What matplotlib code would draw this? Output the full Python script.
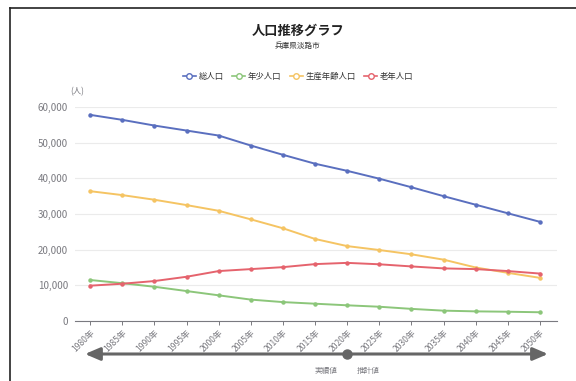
import matplotlib
matplotlib.use("Agg")
import matplotlib.pyplot as plt
from matplotlib.lines import Line2D

plt.rcParams['font.family'] = ['Noto Sans CJK JP', 'DejaVu Sans']

# データ
years = [1980, 1985, 1990, 1995, 2000, 2005, 2010, 2015, 2020, 2025,
         2030, 2035, 2040, 2045, 2050]
total = [57800, 56400, 54800, 53400, 52000, 49200, 46600, 44100, 42100,
         39900, 37500, 35000, 32600, 30200, 27800]
young = [11500, 10600, 9600, 8400, 7200, 6000, 5300, 4850, 4400,
         4000, 3400, 2900, 2700, 2600, 2450]
working = [36400, 35300, 34000, 32500, 30900, 28500, 26000, 23000, 21000,
           19900, 18700, 17200, 15000, 13500, 12100]
elderly = [9900, 10450, 11200, 12400, 14000, 14550, 15100, 15950, 16300,
           15900, 15300, 14750, 14550, 14000, 13300]
series_names = ["総人口", "年少人口", "生産年齢人口", "老年人口"]
yticks = [0, 10000, 20000, 30000, 40000, 50000, 60000]

COLORS = ["#5a6fbf", "#8cc67a", "#f5c463", "#e5636d"]
AXTX = "#7a7a80"
GRID = "#ebebeb"

fig = plt.figure(figsize=(5.76, 3.81), dpi=100, facecolor="white")
ax = fig.add_axes([75 / 576, 1 - 321 / 381, (557 - 75) / 576, (321 - 107) / 381])

xs = list(range(len(years)))
for vals, col in zip([total, young, working, elderly], COLORS):
    ax.plot(xs, vals, color=col, linewidth=1.4, marker="o", markersize=2.2,
            zorder=3, clip_on=False)

ax.set_xlim(-0.47, len(years) - 0.47)
ax.set_ylim(0, 60000)
ax.set_yticks(yticks)
ax.set_yticklabels([f"{v:,}" for v in yticks])
ax.set_xticks(xs)
ax.set_xticklabels([f"{y}年" for y in years], rotation=45, ha="right",
                   rotation_mode="anchor")
for s in ["top", "right", "left"]:
    ax.spines[s].set_visible(False)
ax.spines["bottom"].set_color(AXTX)
ax.spines["bottom"].set_linewidth(0.8)
ax.grid(axis="y", color=GRID, linewidth=0.8)
ax.set_axisbelow(True)
ax.tick_params(axis="y", length=0, labelsize=7, labelcolor=AXTX, pad=5)
ax.tick_params(axis="x", length=3, width=0.7, color=AXTX, labelsize=6.2,
               labelcolor=AXTX, pad=2)

# タイトル
fig.text(298 / 576, 1 - 31 / 381, "人口推移グラフ", ha="center", va="center",
         fontsize=9.5, fontweight="bold", color="#222222")
fig.text(297 / 576, 1 - 46 / 381, "兵庫県淡路市", ha="center", va="center",
         fontsize=5.5, color="#333333")
fig.text(70 / 576, 1 - 92 / 381, "(人)", ha="left", va="center",
         fontsize=6, color=AXTX)

# 凡例
handles = [Line2D([], [], color=c, linewidth=1.2, marker="o", markersize=4,
                  markerfacecolor="white", markeredgewidth=1.0) for c in COLORS]
fig.legend(handles, series_names, loc="center", bbox_to_anchor=(298 / 576, 1 - 76 / 381),
           ncol=4, frameon=False, fontsize=6, handlelength=1.6, handletextpad=0.3,
           columnspacing=1.0, labelcolor="#333333")

# 実績値・推計値の矢印
ARROW = "#666666"
trans = ax.get_xaxis_transform()
y_arrow = (321 - 354) / (321 - 107)
ax.annotate("", xy=(14.25, y_arrow), xytext=(-0.16, y_arrow), xycoords=trans,
            textcoords=trans, annotation_clip=False,
            arrowprops=dict(arrowstyle="<|-|>,head_length=0.75,head_width=0.32",
                            mutation_scale=12, color=ARROW, linewidth=2.2,
                            shrinkA=0, shrinkB=0))
i2020 = years.index(2020)
ax.plot([i2020], [y_arrow], marker="o", markersize=6.5, color=ARROW,
        transform=trans, clip_on=False, zorder=5)
y_lbl = (321 - 371) / (321 - 107)
ax.text(i2020 - 0.3, y_lbl, "実績値", transform=trans, ha="right", va="center",
        fontsize=5.5, color=AXTX)
ax.text(i2020 + 0.3, y_lbl, "推計値", transform=trans, ha="left", va="center",
        fontsize=5.5, color=AXTX)

# 枠線
fig.add_artist(Line2D([10 / 576, 1], [1 - 8 / 381, 1 - 8 / 381],
                      color="#222222", linewidth=1.2, transform=fig.transFigure))
fig.add_artist(Line2D([10 / 576, 10 / 576], [0, 1 - 8 / 381],
                      color="#222222", linewidth=1.2, transform=fig.transFigure))

fig.savefig("out.png", dpi=100, facecolor="white")
